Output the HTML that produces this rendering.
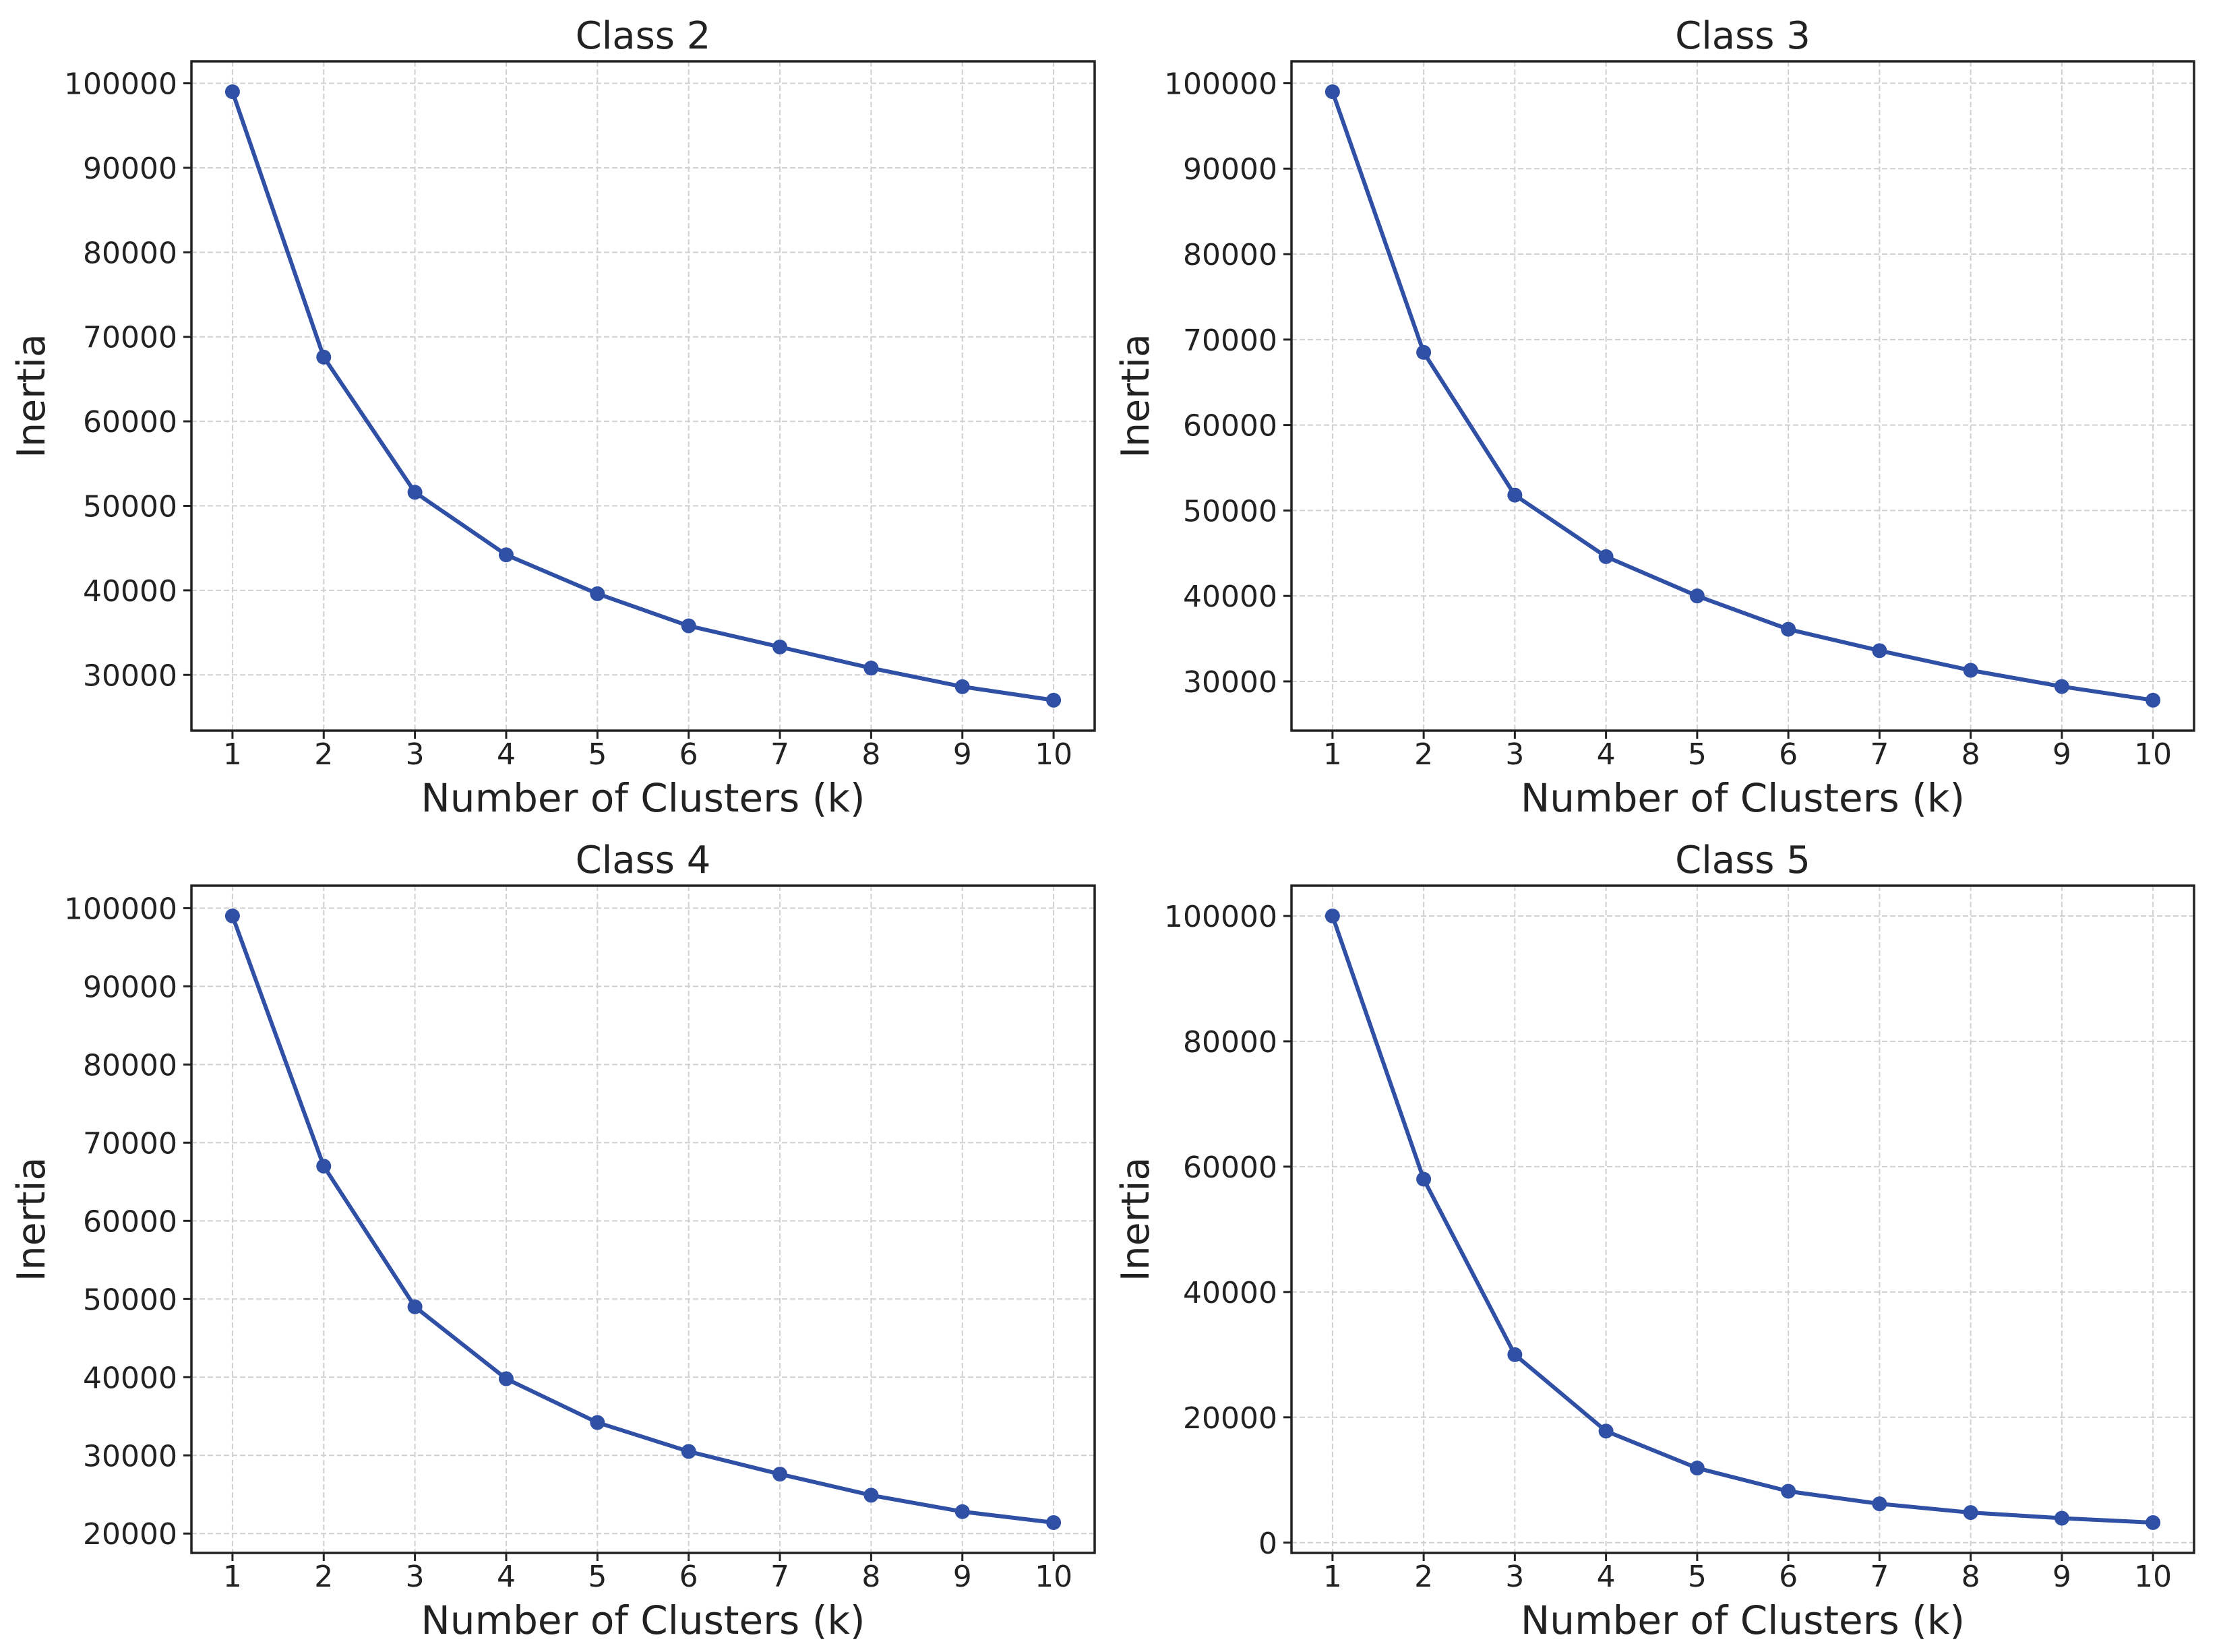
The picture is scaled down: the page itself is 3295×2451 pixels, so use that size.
<!DOCTYPE html>
<html><head><meta charset="utf-8"><style>
html,body{margin:0;padding:0;background:#fff;}
svg{display:block;font-family:"DejaVu Sans","Liberation Sans",sans-serif;}
</style></head><body>
<svg id="fig" width="3295" height="2451" viewBox="0 0 3295 2451" xmlns="http://www.w3.org/2000/svg"></svg>
<script>
const kValues = [1,2,3,4,5,6,7,8,9,10];
const titles = ["Class 2","Class 3","Class 4","Class 5"];
const class2Inertia = [99000,67600,51600,44200,39600,35800,33300,30800,28600,27000];
const class3Inertia = [99000,68500,51800,44600,40000,36100,33600,31300,29400,27800];
const class4Inertia = [99000,67000,49000,39800,34200,30500,27600,24900,22800,21400];
const class5Inertia = [100000,58000,30000,17800,11900,8200,6200,4800,3900,3200];
const class2Ticks = [30000,40000,50000,60000,70000,80000,90000,100000];
const class3Ticks = [30000,40000,50000,60000,70000,80000,90000,100000];
const class4Ticks = [20000,30000,40000,50000,60000,70000,80000,90000,100000];
const class5Ticks = [0,20000,40000,60000,80000,100000];

const NS="http://www.w3.org/2000/svg";
const svg=document.getElementById('fig');
function mk(tag,attrs,parent){const e=document.createElementNS(NS,tag);for(const k in attrs)e.setAttribute(k,attrs[k]);(parent||svg).appendChild(e);return e;}

const panels=[
 {series:class2Inertia,ticks:class2Ticks,L:284,R:1624,T:91,B:1084,ylabX:46},
 {series:class3Inertia,ticks:class3Ticks,L:1916,R:3255,T:91,B:1084,ylabX:1684},
 {series:class4Inertia,ticks:class4Ticks,L:284,R:1624,T:1314,B:2304,ylabX:46},
 {series:class5Inertia,ticks:class5Ticks,L:1916,R:3255,T:1314,B:2304,ylabX:1684}
];

panels.forEach((p,i)=>{
  const g=mk('g',{});
  
  
  const ymin=Math.min(...p.series), ymax=Math.max(...p.series);
  const pad=(ymax-ymin)*0.05;
  const y0=ymin-pad, y1=ymax+pad;
  const xPad=(10-1)*0.05;
  const xs=k=>p.L+(k-(1-xPad))/((10+xPad)-(1-xPad))*(p.R-p.L);
  const ys=v=>p.B-(v-y0)/(y1-y0)*(p.B-p.T);
  kValues.forEach(k=>{
    const l=mk('line',{x1:xs(k),x2:xs(k),y1:p.T,y2:p.B,stroke:'#d0d0d0','stroke-width':2,'stroke-dasharray':'8,4'},g);
    
    
  });
  p.ticks.forEach(v=>{
    const l=mk('line',{x1:p.L,x2:p.R,y1:ys(v),y2:ys(v),stroke:'#d0d0d0','stroke-width':2,'stroke-dasharray':'8,4'},g);
    
    
  });
  const pts=kValues.map((k,j)=>xs(k)+','+ys(p.series[j])).join(' ');
  const pl=mk('polyline',{points:pts,fill:'none',stroke:'#3050a5','stroke-width':6,'stroke-linejoin':'round'},g);
  
  
  kValues.forEach((k,j)=>{
    const c=mk('circle',{cx:xs(k),cy:ys(p.series[j]),r:11,fill:'#3050a5'},g);
    
    
  });
  const fr=mk('rect',{x:p.L,y:p.T,width:p.R-p.L,height:p.B-p.T,fill:'none',stroke:'#222','stroke-width':3.5},g);
  
  
  kValues.forEach(k=>{
    mk('line',{x1:xs(k),x2:xs(k),y1:p.B,y2:p.B+12,stroke:'#222','stroke-width':3},g);
    const t=mk('text',{x:xs(k),y:p.B+50,'text-anchor':'middle','font-size':44,fill:'#222'},g);
    t.textContent=k;
    
    
  });
  p.ticks.forEach(v=>{
    mk('line',{x1:p.L-12,x2:p.L,y1:ys(v),y2:ys(v),stroke:'#222','stroke-width':3},g);
    const t=mk('text',{x:p.L-21,y:ys(v)+16,'text-anchor':'end','font-size':44,fill:'#222'},g);
    t.textContent=v;
    
    
  });
  const ti=mk('text',{x:(p.L+p.R)/2,y:p.T-19,'text-anchor':'middle','font-size':56,fill:'#222'},g);
  ti.textContent=titles[i];
  
  
  const xl=mk('text',{x:(p.L+p.R)/2,y:p.B+120,'text-anchor':'middle','font-size':58,fill:'#222'},g);
  xl.textContent='Number of Clusters (k)';
  
  
  const cy=(p.T+p.B)/2;
  const yl=mk('text',{x:p.ylabX+20,y:cy,'text-anchor':'middle','font-size':57,fill:'#222',transform:'rotate(-90 '+(p.ylabX+20)+' '+cy+')'},g);
  yl.textContent='Inertia';
  
  
});
</script>
</body></html>
